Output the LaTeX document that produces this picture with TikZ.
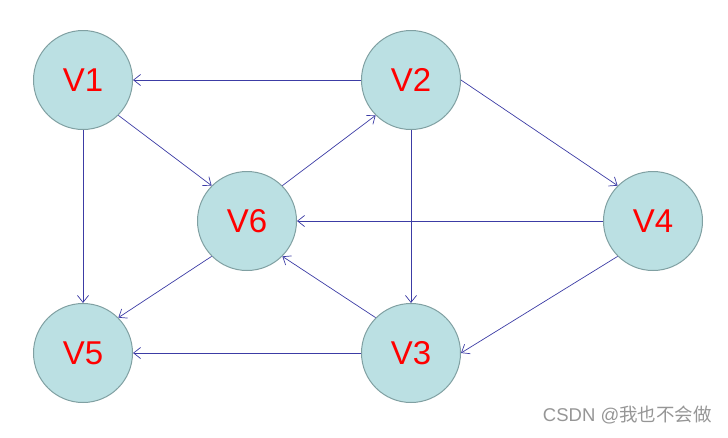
\documentclass[tikz,border=0pt]{standalone}
\usepackage{fontspec}
\setmainfont{Liberation Sans}
\newfontfamily\cjkfont{Noto Sans CJK SC}
\usetikzlibrary{arrows.meta}
\definecolor{nodefill}{RGB}{187,224,227}
\definecolor{nodeborder}{RGB}{128,160,162}
\definecolor{edgecol}{RGB}{60,60,165}
\definecolor{wmgray}{RGB}{150,150,150}
\begin{document}
\begin{tikzpicture}[x=1pt,y=-1pt,
  vert/.style={circle,draw=nodeborder,line width=1pt,fill=nodefill,minimum size=99pt,inner sep=0pt,text=red,font=\fontsize{33}{36}\selectfont},
  edge/.style={draw=edgecol,line width=0.7pt,-{Straight Barb[length=7pt,width=11pt,line width=0.7pt]}}]
\useasboundingbox (0,0) rectangle (728,437);
\node[vert] (v1) at (83,80) {V1};
\node[vert] (v2) at (411,80) {V2};
\node[vert] (v6) at (247,221) {V6};
\node[vert] (v4) at (653,221) {V4};
\node[vert] (v5) at (83,353) {V5};
\node[vert] (v3) at (411,353) {V3};
\draw[edge] (v2.west) -- (v1.east);
\draw[edge] (v1.-45) -- (v6.135);
\draw[edge] (v1.south) -- (v5.north);
\draw[edge] (v6.45) -- (v2.225);
\draw[edge] (v2.east) -- (v4.135);
\draw[edge] (v2.south) -- (v3.north);
\draw[edge] (v4.west) -- (v6.east);
\draw[edge] (v4.225) -- (v3.east);
\draw[edge] (v3.135) -- (v6.-45);
\draw[edge] (v6.225) -- (v5.45);
\draw[edge] (v3.west) -- (v5.east);
\node[anchor=east,text=wmgray,font=\fontsize{18.5}{22}\selectfont,inner sep=0pt] (wm) at (712,415) {CSDN @{\cjkfont 我也不会做}};
\end{tikzpicture}
\end{document}
